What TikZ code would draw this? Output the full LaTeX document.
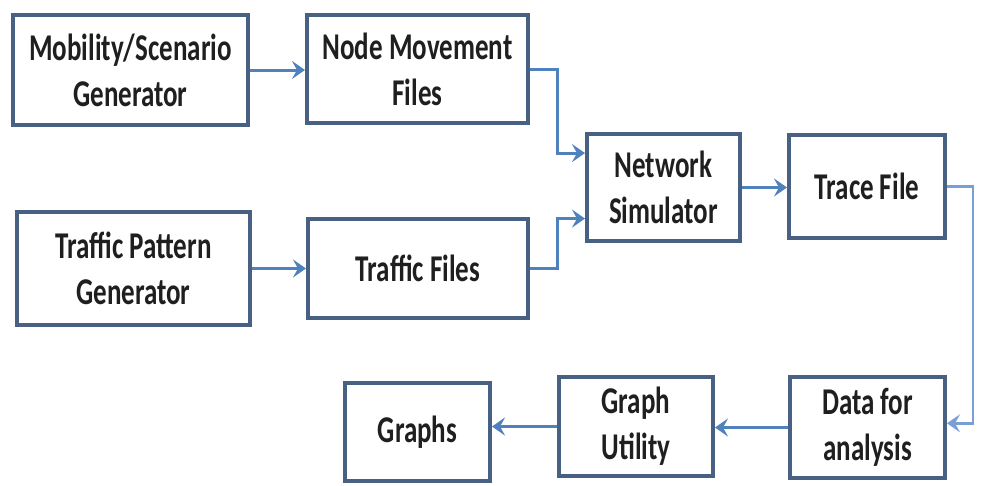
\documentclass[tikz,border=0pt]{standalone}
\usepackage{fontspec}
\setmainfont{Carlito}
\usetikzlibrary{arrows.meta,calc}
\definecolor{boxc}{RGB}{72,96,130}
\definecolor{arrc}{RGB}{79,129,189}
\definecolor{arrl}{RGB}{120,160,215}
\newcommand{\vs}[1]{\scalebox{1}[1.4]{#1}}
\begin{document}
\begin{tikzpicture}[x=1pt,y=-1pt,
 blk/.style={draw=boxc,line width=4pt,fill=white,inner sep=0pt,align=center,
   font=\fontsize{27}{46}\selectfont\bfseries,text=black!88},
 arr/.style={draw=arrc,line width=3pt,-{Stealth[length=13pt,width=18pt,inset=5pt]}},
 arrlt/.style={arr,draw=arrl,line width=2.5pt}]
\useasboundingbox (0,0) rectangle (999,485);
\node[blk,minimum width=235pt,minimum height=110pt] (mob) at (130.5,70) {\vs{Mobility/Scenario}\\\vs{Generator}};
\node[blk,minimum width=221pt,minimum height=108pt] (nm) at (417.5,69) {\vs{Node Movement}\\\vs{Files}};
\node[blk,minimum width=153pt,minimum height=107pt] (ns) at (663.5,187.5) {\vs{Network}\\\vs{Simulator}};
\node[blk,minimum width=156pt,minimum height=103pt] (tf) at (867,186.5) {\vs{Trace File}};
\node[blk,minimum width=233pt,minimum height=113pt] (tp) at (133.5,268.5) {\vs{Traffic Pattern}\\\vs{Generator}};
\node[blk,minimum width=220pt,minimum height=99pt] (tfi) at (418,268.5) {\vs{Traffic Files}};
\node[blk,minimum width=145pt,minimum height=98pt] (gr) at (417.5,432) {\vs{Graphs}};
\node[blk,minimum width=154pt,minimum height=99pt] (gu) at (636,426.5) {\vs{Graph}\\\vs{Utility}};
\node[blk,minimum width=155pt,minimum height=101pt] (da) at (867.5,427.5) {\vs{Data for}\\\vs{analysis}};
\coordinate (j1) at (557,69);
\coordinate (j2) at (557,268.5);
\coordinate (j3) at (973,186.5);
\draw[arr] (mob.east) -- (mob.east -| nm.west);
\draw[arr] (nm.east) -- (j1) |- ($(ns.north west)!0.19!(ns.south west)$);
\draw[arr] (tp.east) -- (tp.east -| tfi.west);
\draw[arr] (tfi.east) -- (j2) |- ($(ns.north west)!0.78!(ns.south west)$);
\draw[arr] (ns.east) -- (ns.east -| tf.west);
\draw[arrlt] (tf.east) -- (j3) |- ($(da.north east)!0.46!(da.south east)$);
\draw[arr] (da.west) -- (da.west -| gu.east);
\draw[arr] (gu.west) -- (gu.west -| gr.east);
\end{tikzpicture}
\end{document}
